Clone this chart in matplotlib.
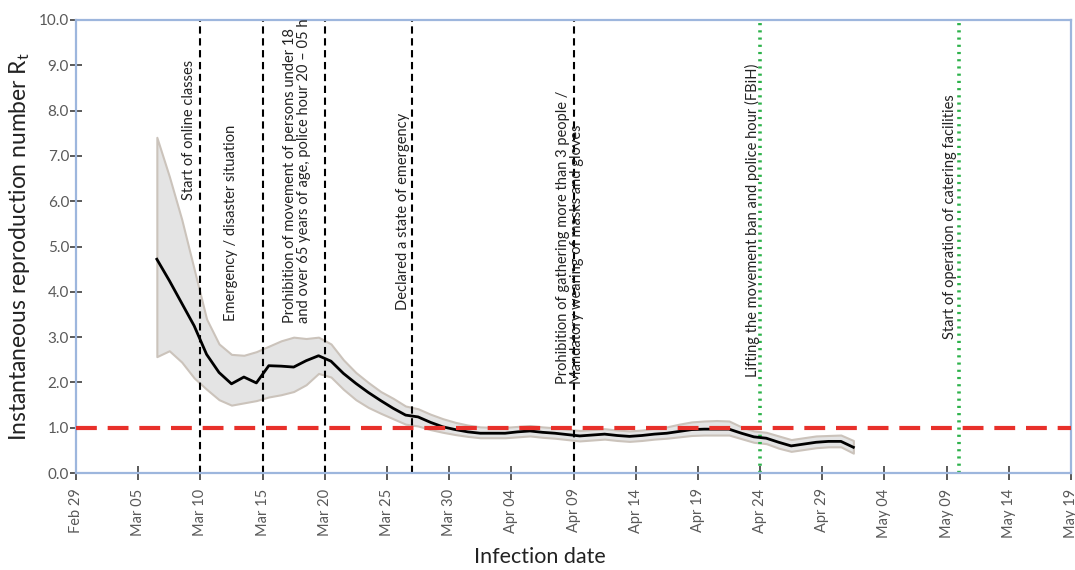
import numpy as np
import pandas as pd
import matplotlib
matplotlib.use("Agg")
import matplotlib.pyplot as plt
import matplotlib.dates as mdates

plt.rcParams['font.family'] = ['Lato', 'DejaVu Sans']
plt.rcParams['mathtext.fontset'] = 'custom'
plt.rcParams['mathtext.rm'] = 'Lato'
plt.rcParams['mathtext.it'] = 'Lato'

# daily estimates (plotted at midday)
dates = pd.date_range("2020-03-06 12:00", "2020-05-01 12:00", freq="D")
rt = [4.72, 4.25, 3.75, 3.25, 2.62, 2.22, 1.97, 2.12, 1.99, 2.37,
      2.36, 2.34, 2.48, 2.59, 2.47, 2.20, 1.98, 1.78, 1.60, 1.43,
      1.28, 1.24, 1.12, 1.02, 0.96, 0.91, 0.88, 0.88, 0.88, 0.91,
      0.93, 0.90, 0.88, 0.85, 0.82, 0.84, 0.86, 0.83, 0.81, 0.83,
      0.86, 0.88, 0.92, 0.96, 0.97, 0.97, 0.97, 0.88, 0.80, 0.77,
      0.68, 0.60, 0.64, 0.68, 0.70, 0.70, 0.57]
rt_low = [2.57, 2.70, 2.45, 2.10, 1.85, 1.62, 1.50, 1.55, 1.60, 1.68,
          1.73, 1.80, 1.95, 2.20, 2.12, 1.85, 1.62, 1.45, 1.32, 1.20,
          1.08, 1.04, 0.96, 0.90, 0.85, 0.81, 0.78, 0.78, 0.78, 0.80,
          0.82, 0.79, 0.77, 0.74, 0.71, 0.73, 0.75, 0.72, 0.70, 0.72,
          0.75, 0.77, 0.80, 0.83, 0.84, 0.84, 0.84, 0.76, 0.68, 0.65,
          0.55, 0.48, 0.52, 0.56, 0.58, 0.58, 0.44]
rt_high = [7.41, 6.55, 5.60, 4.50, 3.40, 2.85, 2.62, 2.60, 2.68, 2.80,
           2.92, 3.00, 2.97, 3.00, 2.85, 2.50, 2.22, 2.00, 1.80, 1.65,
           1.48, 1.42, 1.30, 1.20, 1.12, 1.06, 1.02, 1.01, 1.01, 1.03,
           1.05, 1.02, 1.00, 0.97, 0.94, 0.96, 0.98, 0.95, 0.93, 0.95,
           0.99, 1.02, 1.08, 1.13, 1.15, 1.16, 1.15, 1.02, 0.93, 0.90,
           0.82, 0.74, 0.78, 0.82, 0.83, 0.84, 0.72]

# interventions
event_dates = ["2020-03-10", "2020-03-15", "2020-03-20", "2020-03-27",
               "2020-04-09", "2020-04-24", "2020-05-10"]
event_green = [False, False, False, False, False, True, True]
label_x = ["2020-03-09 02:00", "2020-03-12 12:00", "2020-03-17 19:00",
           "2020-03-26 07:00", "2020-04-08 17:00", "2020-04-23 10:00",
           "2020-05-09 07:00"]
label_y = [6.03, 3.35, 3.32, 3.60, 1.96, 2.11, 2.95]
labels = ["Start of online classes",
          "Emergency / disaster situation",
          "Prohibition of movement of persons under 18\nand over 65 years of age, police hour 20 \u2013 05 h",
          "Declared a state of emergency",
          "Prohibition of gathering more than 3 people /\nMandatory wearing of masks and gloves",
          "Lifting the movement ban and police hour (FBiH)",
          "Start of operation of catering facilities"]

blue = '#9db6dd'
grey = '#595959'

fig = plt.figure(figsize=(10.75, 5.7), dpi=100)
ax = fig.add_axes([0.0707, 0.170, 0.9256, 0.795])

ax.fill_between(dates, rt_low, rt_high, facecolor='#e4e4e4',
                edgecolor='#cbc3bb', linewidth=1.5, zorder=1)
ax.plot(dates, rt, color='black', linewidth=2, zorder=3)

for d, g in zip(event_dates, event_green):
    if g:
        ax.axvline(pd.Timestamp(d), color='#2db24a', linestyle=(0, (0.6, 1.4)),
                   linewidth=2.6, zorder=2)
    else:
        ax.axvline(pd.Timestamp(d), color='black', linestyle=(0, (3.5, 2.2)),
                   linewidth=1.5, zorder=2)

ax.axhline(1.0, color='#e8302a', linestyle=(0, (5, 2.6)), linewidth=3, zorder=4)

for x, y, t in zip(label_x, label_y, labels):
    ax.text(pd.Timestamp(x), y, t, rotation=90, ha='center', va='bottom',
            multialignment='left', fontsize=10.5, color='#222222', linespacing=1.0)

ax.set_xlim(pd.Timestamp("2020-02-29"), pd.Timestamp("2020-05-19"))
ax.set_ylim(0, 10)
ticks = pd.date_range("2020-02-29", "2020-05-19", freq="5D")
ax.set_xticks(ticks)
ax.xaxis.set_major_formatter(mdates.DateFormatter("%b %d"))
ax.set_yticks(np.arange(0, 10.1, 1.0))
ax.yaxis.set_major_formatter(matplotlib.ticker.FormatStrFormatter('%.1f'))
plt.setp(ax.get_xticklabels(), rotation=90)

ax.tick_params(axis='x', direction='inout', length=10, width=1.4, color=grey,
               labelcolor=grey, labelsize=10.5, pad=6)
ax.tick_params(axis='y', direction='inout', length=8, width=1.4, color=grey,
               labelcolor=grey, labelsize=11, pad=1)
for s in ax.spines.values():
    s.set_color(blue)
    s.set_linewidth(1.6)

ax.set_ylabel("Instantaneous reproduction number R$_\\mathrm{t}$",
              fontsize=16.5, color='#222222', labelpad=5)
ax.set_xlabel("Infection date", fontsize=15.5, color='#222222')
ax.xaxis.set_label_coords(0.466, -0.163)

fig.savefig("out.png", dpi=100)
